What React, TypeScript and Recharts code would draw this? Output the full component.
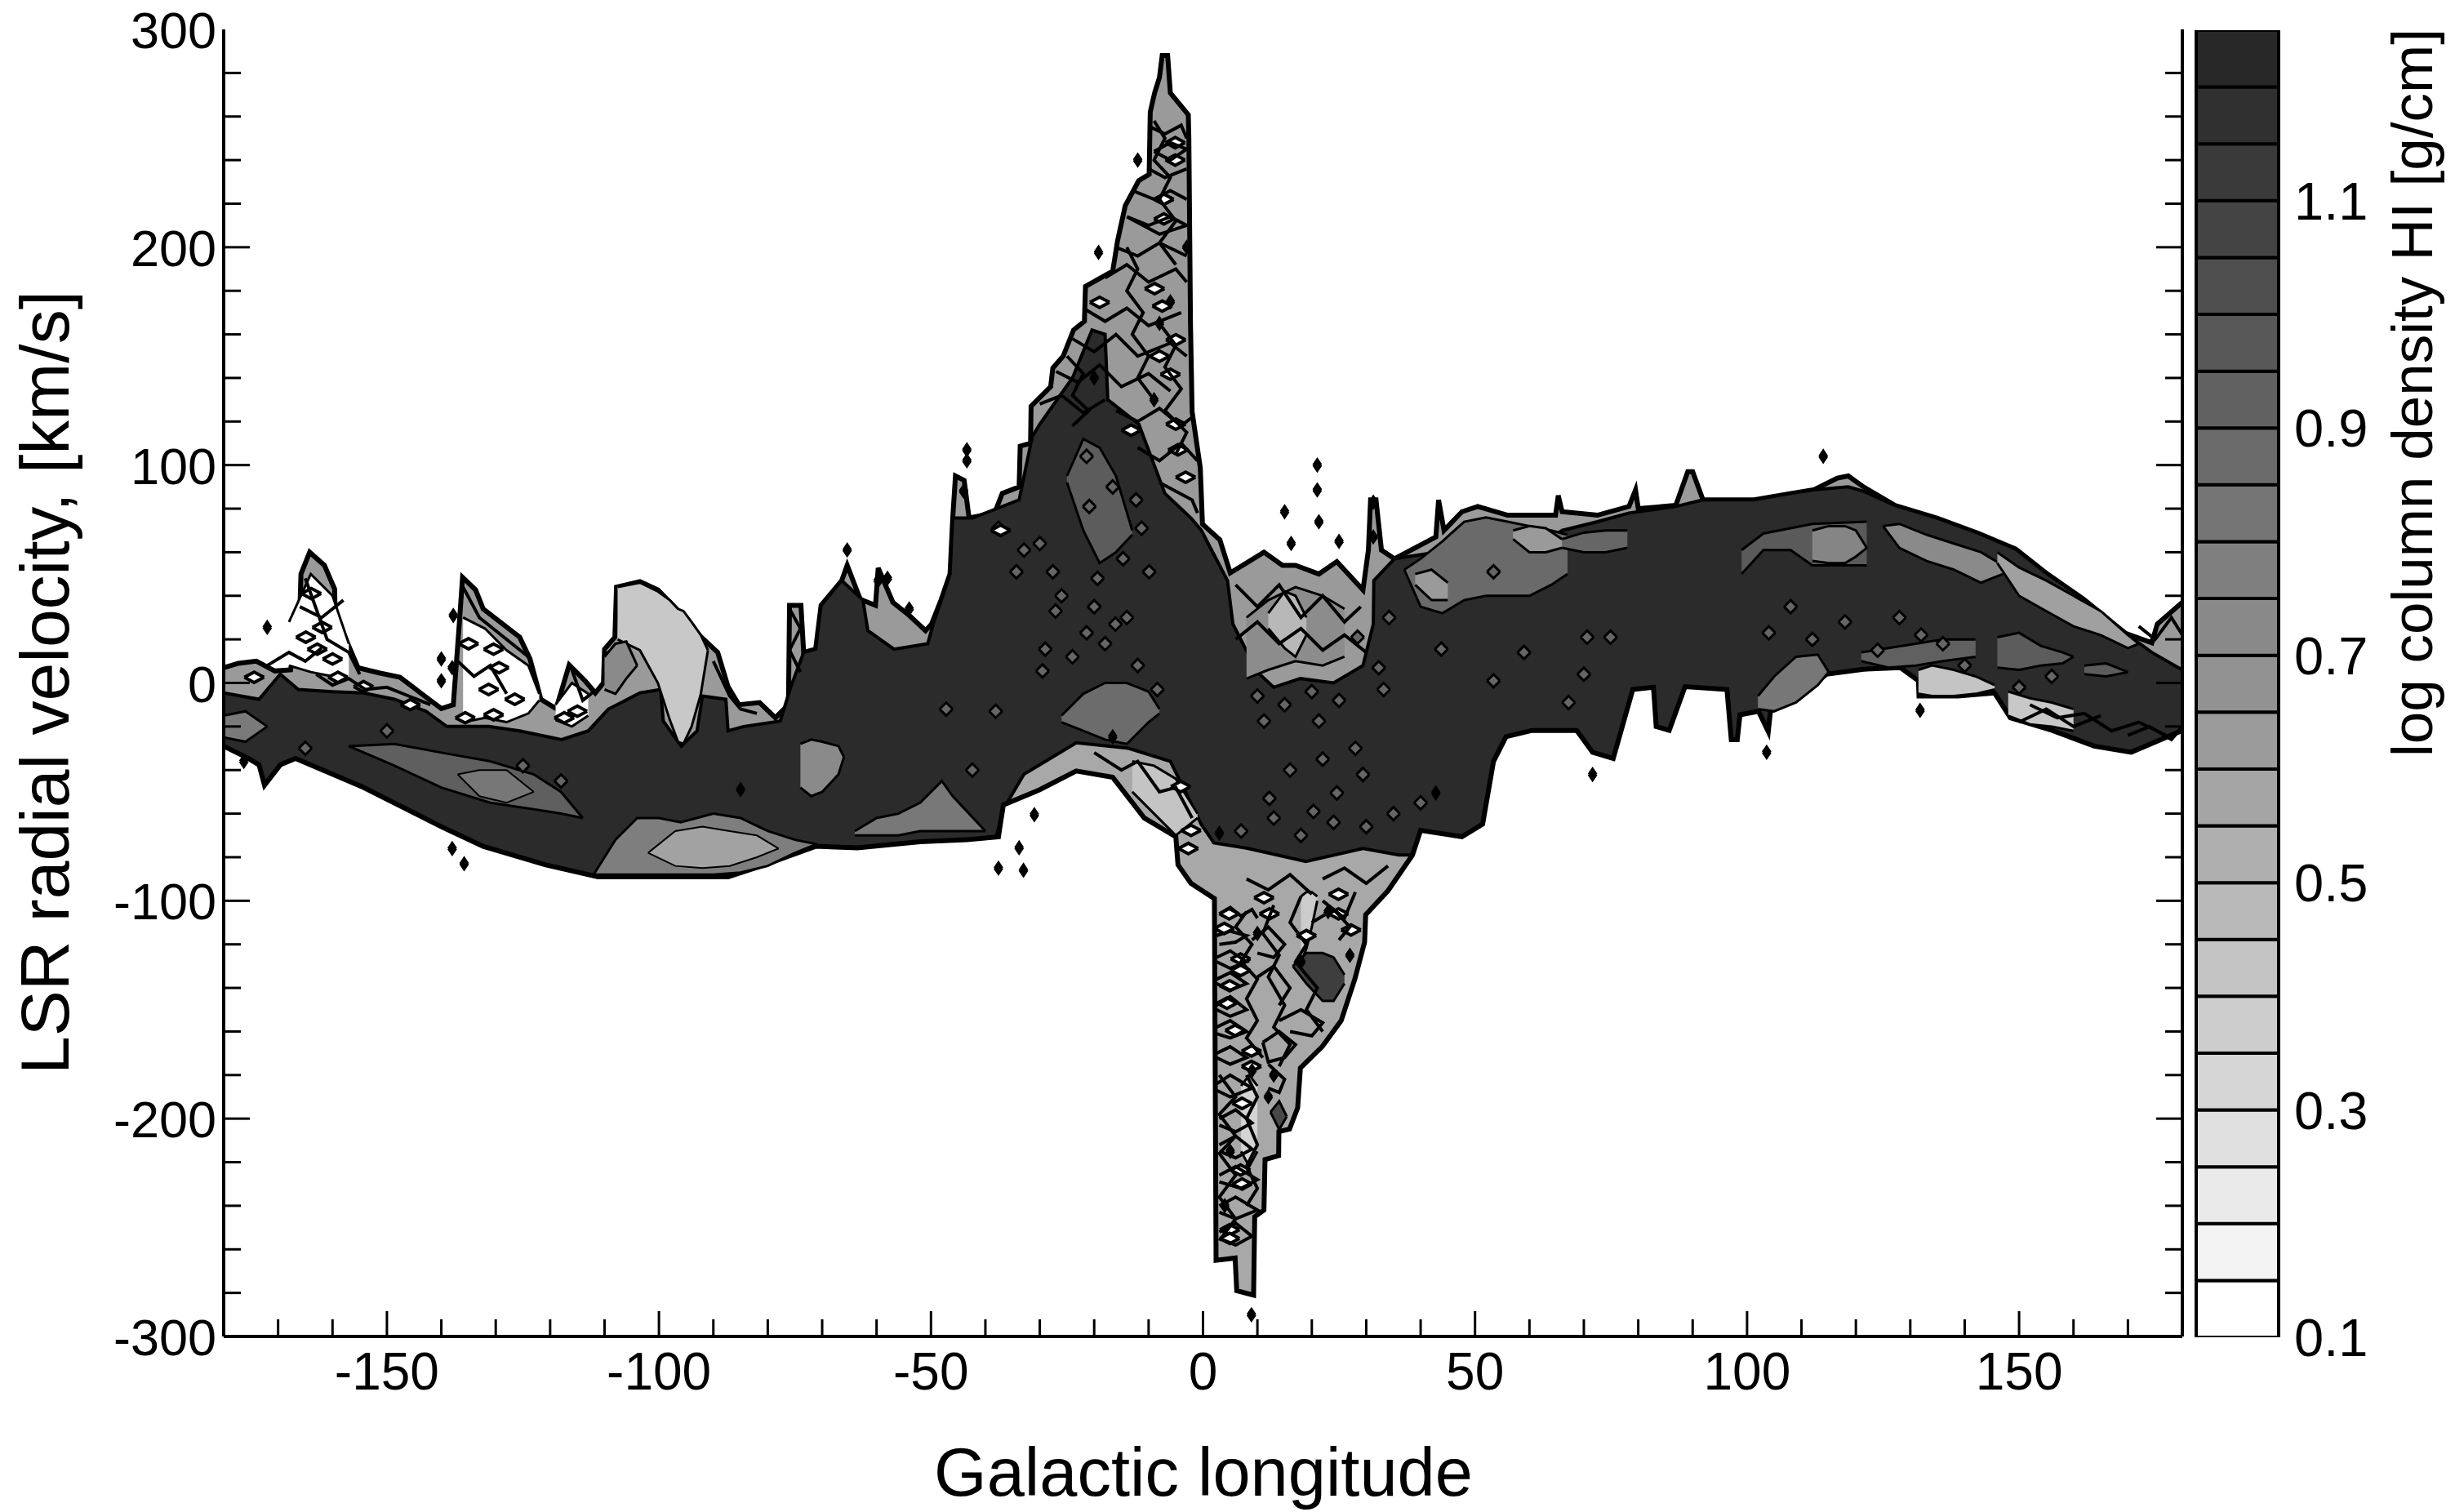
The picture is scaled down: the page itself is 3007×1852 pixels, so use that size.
import React from "react";
import { ComposedChart, BarChart, Area, Bar, Line, XAxis, YAxis, Label } from "recharts";

const FONT = "'Liberation Sans', Arial, sans-serif";

// tick values
const xTickValues = [-170,-160,-150,-140,-130,-120,-110,-100,-90,-80,-70,-60,-50,-40,-30,-20,-10,0,10,20,30,40,50,60,70,80,90,100,110,120,130,140,150,160,170];
const xMajor = [-150,-100,-50,0,50,100,150];
const yTickValues = [-300,-280,-260,-240,-220,-200,-180,-160,-140,-120,-100,-80,-60,-40,-20,0,20,40,60,80,100,120,140,160,180,200,220,240,260,280,300];
const yMajor = [-300,-200,-100,0,100,200,300];
const barTicks = [0.1,0.3,0.5,0.7,0.9,1.1];

// colour bar
const bandGreys = [255,243,234,224,214,205,195,185,175,165,155,146,137,127,117,107,97,88,78,68,58,48,40];

// outer silhouette, upper edge (km/s against longitude)
const outerLon = [-180,-177.3,-174,-170.6,-167.7,-166.6,-166,-165.8,-164.2,-161.5,-159.6,-159.5,-157.7,-155.3,-151.4,-147.6,-143.8,-140,-137.8,-136.7,-136.1,-133.7,-132.3,-125.6,-123.7,-121.7,-118.9,-116.5,-113.6,-111.7,-110.2,-110,-108.1,-107.8,-103.5,-100.2,-96.8,-93.5,-89.2,-87.3,-85.3,-81.5,-78.6,-76.2,-76,-73.9,-73.4,-71.2,-70.2,-66.4,-65.4,-63,-60.2,-59.7,-57,-54,-51,-49.9,-48.1,-46.5,-46,-45.5,-43.9,-43,-38.3,-36.9,-33.8,-33.6,-31.7,-31.6,-28,-27.6,-25.7,-23.8,-21.8,-21.6,-16.6,-15.7,-14.3,-11.8,-9.9,-9.7,-8.9,-8,-7.5,-6.5,-6,-2.7,-2.6,-2.3,-2,-0.5,-0.1,3.1,5,11.2,14.6,17,21.3,24.6,29.4,30.4,30.8,31.8,32.8,35.2,42.8,43.3,44.3,47.6,50.5,56,64.8,65.3,66,72.5,78.3,79.5,80,86.9,89.1,90,91.9,101.1,108.1,112.2,116.6,118.6,121.4,127.2,134.9,142.6,149.4,155.2,161.9,169.6,174.4,175.4,180];
const outerTop = [7,9,10,5.5,6,24,33,50,60,54,43,27,21,7,4.6,2.6,-4.6,-11.8,-10,27,48.5,42.7,34,21,11,-7.5,-11.8,8.3,1,-4.6,0,15.5,21,44,46.5,42.7,34,24,14,-1.7,-10,-9,-16,-10,35.6,35.6,14,15.5,35.6,47,54,38.4,35.6,52.8,37,31,24,27,38.4,50,75.7,95,93,75.7,78,87,90,108.7,110,127,136,144.6,150,162,166,182,189,203,219,230.6,233.5,262,270.8,278,288,288,270.8,260.8,250,164.7,124.5,98.7,72.9,65.7,50.5,60,54,54,50,55.7,42.7,61,84,84,61,57,67,84,70,78.6,81,77,77,86,78.6,77,81,88.6,80,81.5,97,97,84,84,87,88.6,94,95,90,81.5,75.7,68.6,61.4,50,38.4,22.7,18.4,27,37];

// dark body, upper edge
const bodyLon = [-180,-173.5,-169.6,-166.3,-160,-154.3,-148.6,-142.8,-139,-131.3,-125.6,-117.9,-113,-109.3,-103.5,-99.7,-99.2,-95.9,-93,-92,-87.7,-87.3,-84.4,-77.7,-75.8,-73.4,-71.2,-70.2,-66.4,-62.5,-61.6,-56.8,-50.6,-49.6,-48.1,-46.5,-46,-42.4,-33.8,-31.4,-30,-24,-20.4,-18,-17.5,-11.8,-7,-2.2,-0.3,4.5,5.5,10,13,17.9,24,29.4,31.3,31.4,35.2,42.8,47.6,50.5,56,64.8,66,72.5,78.3,86.9,91.9,101.1,108.1,112.2,118.6,121.4,127.2,134.9,142.6,149.4,155.2,161.9,169.6,174.4,180];
const bodyTop = [-4.6,-7.5,4,-3,-4,-4.6,-7.5,-13,-20,-20,-22,-26,-22,-12,-4.6,-3,-17.5,-29,-22,-6,-7.5,-22,-20,-17.5,-2,14,15.5,35.6,47,38,24,15.5,18,27,38,50,75.7,75.7,84,113,118.8,140,162,160,130,118.8,87,75.7,70,47,27,5,-2,2,0,8,27,47,57,60,62,65,66,68,70,74,78,81,84,84,87,88.6,90,88,81.5,75.7,68.6,61.4,50,38.4,22.7,14,6];

// lower edges
const greyLowLon = [-38,-36.7,-32.9,-23.3,-13.7,-6,-0.3,2,8.3,18.9,29.4,36,38.5];
const greyLow = [-70.6,-58,-41.9,-27.5,-30,-36,-65,-73.4,-76,-82,-76,-79,-79];
const outerLowLon = [-180,-175.4,-173.5,-172.5,-169.6,-166.8,-154.3,-140,-132.3,-120.8,-111.2,-87.3,-80.6,-71.2,-63.5,-52,-43.4,-37.6,-36.7,-30,-23.3,-16.6,-10.8,-5,-4.6,-2.2,2.1,2.4,5.9,6.2,9.3,9.5,11.2,11.4,13.9,13.95,15.9,17.4,17.9,21.9,25.4,27.9,29.7,29.9,34,38.5,40,47.6,51.4,53.4,55.7,60.5,68.7,71.6,75.4,79,82.8,83.3,85.7,88.6,96.3,97.1,98.2,98.7,102.1,103.9,104.3,107.9,114.6,121.4,128.2,131.5,131.6,138.8,145.5,148.4,156.1,163.8,170.6,180];
const outerLow = [-29,-34.7,-37.6,-47,-37.6,-34.7,-48,-66,-75,-83.5,-89,-89,-83.5,-75,-75.7,-72.9,-72,-70.6,-56,-49,-40.4,-43.3,-62,-70.6,-83.5,-92,-99,-265,-264,-279,-281,-245,-242,-218.8,-217,-206,-204.8,-195,-176.7,-167,-155,-136,-119,-106.4,-95.4,-79,-67.7,-70.6,-64.8,-36,-24.7,-21.8,-21.8,-31.8,-34.7,-3,-2,-20,-21.8,-1.7,-3,-26,-26,-14.6,-13,-22.4,-13,-9,4,6.3,7,1,-6,-6,-4.6,-16,-21.8,-29,-31.8,-21.8];

// filled contour patches: longitude, low and high velocity
const hump = { lon:[-107.6,-103.5,-100.2,-98,-96.5,-95.5,-94,-92.3,-91], low:[20,15,0,-17,-27,-28,-20,-5,15], high:[44,46,42,38,34,33,28,22,15] };
const humpInner = { lon:[-110,-108,-106,-104], low:[-3,-5,2,8], high:[12,18,19,8] };
const wedgeA = { lon:[-157,-148.6,-140,-131,-123,-118,-114], low:[-29,-38,-48,-55,-58,-60,-62], high:[-29,-28,-32,-36,-42,-50,-62] };
const wedgeB = { lon:[-137,-133,-128,-123], low:[-42,-52,-55,-50], high:[-42,-40,-40,-50] };
const floorA = { lon:[-112,-108,-104,-100,-96,-90,-85,-80,-75,-71], low:[-88,-88,-88,-88,-88,-88,-87,-84,-78,-74], high:[-88,-72,-62,-62,-64,-60,-62,-68,-72,-74] };
const floorB = { lon:[-102,-97,-92,-87,-82,-78], low:[-78,-84,-85,-84,-80,-76], high:[-78,-68,-66,-68,-70,-76] };
const edgeLeft = { lon:[-180,-176,-172], low:[-25,-27,-20], high:[-15,-13,-20] };
const blobW = { lon:[-74,-72,-70,-67,-66], low:[-48,-52,-50,-42,-34], high:[-28,-26,-27,-29,-34] };
const floorC = { lon:[-64,-60,-56,-52,-48,-46,-43,-40], low:[-70,-70,-70,-68,-68,-68,-68,-68], high:[-68,-62,-60,-55,-45,-52,-60,-68] };
const centreBand = { lon:[-26,-22,-18,-14,-10,-8], low:[-18,-22,-26,-28,-18,-14], high:[-15,-5,0,0,-4,-12] };
const columnA = { lon:[-25,-22,-19,-16,-13], low:[92,70,55,60,68], high:[95,112,108,95,70] };
const rightA = { lon:[99,103,108,112,122], low:[50,61,61,54,54], high:[61,68.6,71,73,74] };
const rightB = { lon:[112,115,118,120,122], low:[56,55,55,58,62], high:[70,72,72,70,62] };
const rightC = { lon:[125,128,133,138,143,147], low:[72,62,56,52,46,50], high:[72,73,68,64,60,54] };
const rightD = { lon:[146,150,155,160,165,170,172], low:[55,40,33,26,22,16,18], high:[60,53,47,40,33,22,18] };
const rightE = { lon:[131.5,134,138,142,145.5], low:[-5,-6,-6,-5,-3], high:[6,8,6,3,-1] };
const rightF = { lon:[148,152,156,160], low:[-15,-19,-20,-22], high:[-4,-7,-9,-12] };
const rightG = { lon:[102,105,109,113,115], low:[-12,-13,-9,-1,5], high:[-6,3,12,13,5] };
const rightH = { lon:[146,150,154,158,160], low:[7,6,8,9,12], high:[21,23,17,14,12] };
const rightI = { lon:[121,126,131,136,142], low:[10,7,8,10,12], high:[14,16,18,20,20] };
const rightJ = { lon:[162,166,170], low:[4,3,5], high:[8,9,5] };
const topA = { lon:[37,40,44,48,52,56,60,64,67], low:[52,35,32,38,40,40,40,45,50], high:[52,57,65,74,76,74,72,70,68] };
const topB = { lon:[39,42,45], low:[45,38,38], high:[50,52,46] };
const topC = { lon:[57,60,63,66], low:[66,60,60,62], high:[70,72,71,66] };
const topD = { lon:[66,70,74,78], low:[62,60,60,62], high:[66,69,70,70] };
const armDarkA = { lon:[16.5,19,22,24,26], low:[-130,-138,-146,-146,-138], high:[-130,-124,-124,-126,-134] };
const armDarkB = { lon:[12.4,14,15.4], low:[-197,-205,-199], high:[-197,-192,-199] };
const armLightA = { lon:[18,19,20,21], low:[-128,-122,-112,-100], high:[-98,-96,-96,-98] };
const armLightB = { lon:[7,8.5,10], low:[-215,-222,-215], high:[-185,-180,-185] };
const streamA = { lon:[-168,-164,-160,-157], low:[8,5,3,2], high:[28,50,40,18] };
const streamB = { lon:[-136,-132,-128,-124,-122], low:[-18,-16,-18,-14,-8], high:[30,25,15,8,-5] };
const streamC = { lon:[-119,-116,-113], low:[-17,-20,-15], high:[-10,0,-5] };
const midGreyA = { lon:[8,12,17,22,26], low:[2,6,10,8,12], high:[30,38,44,40,34] };
const midLightB = { lon:[-13,-9,-5,-1], low:[-50,-60,-70,-62], high:[-36,-38,-44,-60] };
const midLightC = { lon:[12,15,17,19], low:[25,16,12,22], high:[32,42,40,30] };

const patchLayers = [
  { p: streamA, fill: "#ffffff", w: 3 }, { p: streamB, fill: "#ffffff", w: 3 }, { p: streamC, fill: "#ffffff", w: 3 },
  { p: hump, fill: "#c8c8c8", w: 3 }, { p: humpInner, fill: "#8a8a8a", w: 3 },
  { p: wedgeA, fill: "#5f5f5f", w: 3 }, { p: wedgeB, fill: "#777777", w: 2 },
  { p: floorA, fill: "#7e7e7e", w: 3 }, { p: floorB, fill: "#a2a2a2", w: 2 },
  { p: edgeLeft, fill: "#7a7a7a", w: 3 }, { p: blobW, fill: "#8a8a8a", w: 3 }, { p: floorC, fill: "#787878", w: 3 },
  { p: centreBand, fill: "#6c6c6c", w: 3 }, { p: columnA, fill: "#5c5c5c", w: 3 },
  { p: rightA, fill: "#5a5a5a", w: 3 }, { p: rightB, fill: "#858585", w: 3 }, { p: rightC, fill: "#8a8a8a", w: 3 },
  { p: rightD, fill: "#a0a0a0", w: 3 }, { p: rightE, fill: "#c4c4c4", w: 3 }, { p: rightF, fill: "#c8c8c8", w: 3 },
  { p: rightG, fill: "#777777", w: 3 }, { p: rightH, fill: "#5c5c5c", w: 3 }, { p: rightI, fill: "#606060", w: 3 }, { p: rightJ, fill: "#5c5c5c", w: 3 },
  { p: topA, fill: "#6a6a6a", w: 3 }, { p: topB, fill: "#9a9a9a", w: 3 }, { p: topC, fill: "#9a9a9a", w: 3 }, { p: topD, fill: "#666666", w: 3 },
  { p: armDarkA, fill: "#3e3e3e", w: 3 }, { p: armDarkB, fill: "#484848", w: 3 }, { p: armLightA, fill: "#cccccc", w: 3 }, { p: armLightB, fill: "#d4d4d4", w: 3 },
  { p: midGreyA, fill: "#8c8c8c", w: 3 }, { p: midLightC, fill: "#b8b8b8", w: 3 }, { p: midLightB, fill: "#c4c4c4", w: 3 },
];

// small closed contours
const whiteLon = [-174.4,-161.9,-160,-162.8,-154.3,-159,-145.7,-135.6,-130.4,-131.3,-129.4,-130.4,-126.5,-135,-117.4,-115,-163.9,-164.9,
  -5.1,-5.1,-7.2,-7.2,-19,-8.9,-7.5,-5,-8,-6,-4.6,-3.2,-5,-13.2,-37.2,-4.1,-2.2,-2.7,
  11.2,6.9,6.9,4.9,4.4,5.9,7.2,6.9,7.2,4.9,4.9,8.9,8.9,12.2,19,24.9,24.9,27.2,4.8,3.9];
const whiteVel = [2.6,25.5,11,15.5,-1.7,2.6,-10,-16,-14.6,-3,7,15.5,-7.5,18,-16,-13,41,21,
  248,240,222,213,174.7,181,173,157.5,150,141.7,107,94.4,118.8,116,70,-47.6,-67.7,-76,
  -98.6,-126.7,-132,-139,-147,-159.5,-193,-223.6,-230,-251,-255,-176,-169,-106,-116,-97,-106,-113.4,-106,-112.7];
const blackLon = [-176.3,-172,-137.8,-140,-140,-138,-138,-135.8,-85,-43.4,-43.4,-19.2,-65.4,-59.7,-54,21,21,21.3,15,16.2,25,31.3,31.3,-37.6,-33,-33.8,-31,71.6,103.6,131.8,8.9,-16.6,3,42.8,-44,-58,114,
  -3,-6,-9,10,13,18,23,27,9,5,4,12,-20,-12,-8];
const blackVel = [-36,25.5,31,11,1,7,-76,-83,-49,107,102,197.6,61,47,34,100,88.6,74,78.6,64,65,83,67,-85,-86,-75.7,-60.5,-42,-31.8,-12.6,-290,-24.7,-69,-50.5,88,48,104,
  200,175,130,-115,-180,-128,-105,-125,-178,-215,-240,-190,140,240,165];
const greyLon = [-37.6,-32.9,-30,-34.3,-27.6,-21.4,-20.9,-16.6,-12.3,-11.3,-14.7,-19.4,-9.9,-27.1,-21.4,-16.1,-29,-29.5,-38.1,-47.2,-8.4,11.2,21.3,12.2,20.3,24.6,29.4,34.2,32.3,28.4,33.2,53.4,74.9,70.6,59,70,67.2,53.4,43.8,-42.4,
  104,108,112,118,124,128,132,136,140,150,156,-165,-150,-125,-118,
  10,15,20,25,7,13,18,24,30,35,40,16,22,28,-24,-18,-12,-26,-20,-14];
const greyVel = [71,61,64,51,51,104,81,90,84,71,57,48,51,33,23,27,15.5,5.5,-13,-12,-3,-17.5,-17.5,-53,-59,-50.5,-42,30,7,21,-3,51,21,21,14,4,-9,1,15.5,-40,
  23,35,20,28,15,30,22,18,8,-2,3,-30,-22,-38,-45,
  -6,-10,-4,-8,-68,-62,-70,-64,-66,-60,-55,-40,-35,-30,12,18,8,40,35,30];

// wandering contour lines
const armLowSquiggles = [
  { lon:[8,6,9,7,10,8,10,8,11], vel:[-105,-112,-120,-128,-136,-145,-155,-163,-172] },
  { lon:[13,11,14,12,15,13,16,14], vel:[-102,-115,-125,-135,-148,-158,-166,-176] },
  { lon:[18,16,19,17,21,19,22], vel:[-98,-110,-120,-128,-140,-150,-160] },
  { lon:[3,6,3,6,3,6,3,6,3], vel:[-180,-190,-198,-208,-216,-226,-236,-246,-256] },
  { lon:[8,10,8,10,8,10,8], vel:[-180,-190,-200,-212,-222,-232,-240] },
  { lon:[3,5,7,9,10], vel:[-106,-103,-107,-104,-108] },
  { lon:[2.5,5,8,6,3], vel:[-116,-114,-116,-119,-120] },
  { lon:[2.5,5,8,5,2.5], vel:[-126,-123,-128,-131,-128] },
  { lon:[2.5,5,8,5,2.5], vel:[-136,-133,-138,-141,-138] },
  { lon:[2.5,5,8,5,2.5], vel:[-148,-144,-150,-153,-150] },
  { lon:[2.5,5,8,5,2.5], vel:[-158,-155,-160,-163,-161] },
  { lon:[2.5,5,8,5,2.5], vel:[-170,-167,-172,-175,-172] },
  { lon:[2.5,5,9,5,2.5], vel:[-184,-180,-186,-190,-187] },
  { lon:[3,6,9,6,3], vel:[-200,-196,-202,-206,-203] },
  { lon:[3,6,9,6,3], vel:[-212,-208,-214,-218,-215] },
  { lon:[3,6,10,7,3], vel:[-226,-222,-228,-232,-229] },
  { lon:[3,6,10,6,3], vel:[-240,-236,-242,-246,-243] },
  { lon:[3,6,9,6,3], vel:[-252,-248,-254,-258,-255] },
  { lon:[11,14,17,15,12,11], vel:[-165,-160,-166,-172,-174,-165] },
  { lon:[14,18,22,20,16], vel:[-155,-150,-156,-162,-160] },
  { lon:[20,24,27,25], vel:[-110,-104,-112,-118] },
  { lon:[22,26,28], vel:[-100,-108,-96] },
  { lon:[9,12,15,13,10], vel:[-118,-112,-120,-126,-124] },
  { lon:[10,13,16,14], vel:[-135,-130,-140,-148] },
  { lon:[12,15,14,12], vel:[-175,-182,-188,-186] },
  { lon:[8,12,16,20], vel:[-90,-95,-88,-97] },
  { lon:[22,26,30,34], vel:[-90,-85,-92,-84] },
];
const armHighSquiggles = [
  { lon:[-14,-12,-14,-11,-13,-10,-12,-9], vel:[200,190,180,170,160,150,140,130] },
  { lon:[-9,-7,-9,-6,-8,-5,-8,-5], vel:[258,250,240,232,222,212,202,192] },
  { lon:[-25,-22,-24,-21,-24], vel:[150,142,132,125,118] },
  { lon:[-8,-5,-7,-4,-7,-3,-5], vel:[165,155,145,135,125,115,105] },
  { lon:[-9.5,-7,-4,-3], vel:[255,252,256,250] },
  { lon:[-9,-6,-3,-6,-9], vel:[244,240,245,248,244] },
  { lon:[-10,-7,-3], vel:[236,232,236] },
  { lon:[-13,-9,-6,-3], vel:[226,222,226,222] },
  { lon:[-14,-10,-6,-3,-8,-14], vel:[214,210,214,210,206,214] },
  { lon:[-16,-12,-8,-3], vel:[200,196,202,196] },
  { lon:[-18,-14,-10,-5,-3], vel:[186,192,184,190,184] },
  { lon:[-22,-18,-14,-10,-4], vel:[172,166,172,164,170] },
  { lon:[-24,-20,-16,-12,-6,-3], vel:[158,152,160,150,156,150] },
  { lon:[-27,-23,-19,-15,-10,-6], vel:[143,138,146,136,142,134] },
  { lon:[-30,-26,-22,-18], vel:[128,132,124,130] },
  { lon:[-16,-12,-8,-4,-2], vel:[125,120,126,118,122] },
  { lon:[-12,-8,-4,-1], vel:[108,102,110,102] },
  { lon:[-8,-5,-2,-1], vel:[92,88,84,78] },
];
const edgeSquiggles = [
  { lon:[6,10,14,18,22,26,29], vel:[45,35,45,30,40,28,35] },
  { lon:[6,10,14,18,22,26,30], vel:[20,28,18,25,15,22,14] },
  { lon:[-20,-15,-12,-8,-5,-2], vel:[-32,-40,-36,-50,-48,-62] },
  { lon:[-163,-160,-157,-154,-150,-146,-142], vel:[4,-1,2,-3,-2,-6,-10] },
  { lon:[152,157,162,167,172,177], vel:[-10,-16,-14,-22,-18,-24] },
  { lon:[-172,-168,-165,-162], vel:[8,14,10,16] },
  { lon:[-166,-162,-158], vel:[35,30,38] },
  { lon:[-165,-161,-157,-155], vel:[48,20,14,4] },
  { lon:[-136,-133,-130,-127,-124], vel:[44,30,24,18,12] },
  { lon:[-137,-134,-131,-128], vel:[10,3,8,-5] },
  { lon:[-116,-114,-112], vel:[6,-8,-4] },
  { lon:[-90,-87,-85,-82], vel:[10,-6,-12,-14] },
  { lon:[-76,-74,-76,-74], vel:[34,25,15,5] },
  { lon:[172,175,178,180], vel:[26,20,30,22] },
  { lon:[170,174,178,180], vel:[-24,-20,-26,-20] },
  { lon:[150,155,160,165], vel:[-18,-12,-20,-15] },
];
const squiggles = [...armLowSquiggles, ...armHighSquiggles, ...edgeSquiggles];

const rows = (lon: number[], val: number[]) => lon.map((l, i) => ({ lon: l, v: val[i] }));
const rangeRows = (p: { lon: number[]; low: number[]; high: number[] }) => p.lon.map((l, i) => ({ lon: l, r: [p.low[i], p.high[i]] }));
const eyeRows = (l: number, v: number, dl: number, dv: number) => [
  { lon: l - dl, r: [v, v] }, { lon: l, r: [v - dv, v + dv] }, { lon: l + dl, r: [v, v] },
];

const txt = { fontFamily: FONT, fill: "#000" };

const xTick = (dir: number, showLabel: boolean) => (props: any) => {
  const { x, y, payload } = props;
  const major = xMajor.includes(payload.value);
  return (
    <g>
      <line x1={x} x2={x} y1={y} y2={y + dir * (major ? 31 : 21)} stroke="#000" strokeWidth={3} />
      {showLabel && major ? (
        <text x={x} y={y + 65} textAnchor="middle" fontSize={64} {...txt}>{payload.value}</text>
      ) : null}
    </g>
  );
};

const yTick = (dir: number, showLabel: boolean) => (props: any) => {
  const { x, y, payload } = props;
  const major = yMajor.includes(payload.value);
  const edge = Math.abs(payload.value) === 300;
  return (
    <g>
      {edge ? null : <line x1={x} x2={x + dir * (major ? 32 : 21)} y1={y} y2={y} stroke="#000" strokeWidth={3} />}
      {showLabel && major ? (
        <text x={x - 9} y={y + 23} textAnchor="end" fontSize={63} {...txt}>{payload.value}</text>
      ) : null}
    </g>
  );
};

const barTick = (props: any) => {
  const { x, y, payload } = props;
  return <text x={x + 19} y={y + 23} textAnchor="start" fontSize={65} {...txt}>{payload.value.toFixed(1)}</text>;
};

const axisLine = { stroke: "#000", strokeWidth: 4 };
const barRow = bandGreys.reduce((acc: any, _g, i) => { acc["b" + i] = 0.05; return acc; }, { name: "scale", base: 0.1 });

export default function App() {
  return (
    <div style={{ position: "absolute", left: 0, top: 0, width: 3007, height: 1852, background: "#fff", overflow: "hidden" }}>
      <div style={{ position: "absolute", left: 0, top: 0 }}>
        <ComposedChart width={2700} height={1852} margin={{ left: 0, top: 36, right: 0, bottom: 0 }}>
          <XAxis xAxisId="b" dataKey="lon" type="number" domain={[-180, 180]} ticks={xTickValues} interval={0} allowDataOverflow height={215} tickSize={0} tickMargin={0} tick={xTick(-1, true)} tickLine={false} axisLine={axisLine} orientation="bottom">
            <Label content={() => <text x={1474} y={1832} textAnchor="middle" fontSize={83} {...txt}>Galactic longitude</text>} />
          </XAxis>
          <XAxis xAxisId="t" dataKey="lon" type="number" domain={[-180, 180]} ticks={xTickValues} interval={0} allowDataOverflow height={0} tickSize={0} tickMargin={0} tick={xTick(1, false)} tickLine={false} axisLine={axisLine} orientation="top" />
          <YAxis yAxisId="l" type="number" domain={[-300, 300]} ticks={yTickValues} interval={0} allowDataOverflow width={274} tickSize={0} tickMargin={0} tick={yTick(1, true)} tickLine={false} axisLine={axisLine} orientation="left">
            <Label content={() => <text transform="translate(84,836) rotate(-90)" textAnchor="middle" fontSize={84} {...txt}>LSR radial velocity, [km/s]</text>} />
          </YAxis>
          <YAxis yAxisId="r" type="number" domain={[-300, 300]} ticks={yTickValues} interval={0} allowDataOverflow width={27} tickSize={0} tickMargin={0} tick={yTick(-1, false)} tickLine={false} axisLine={axisLine} orientation="right" />

          <Area xAxisId="b" yAxisId="l" data={rows(outerLon, outerTop)} dataKey="v" baseValue={-300} type="linear" fill="#9a9a9a" fillOpacity={1} stroke="#000" strokeWidth={6} dot={false} activeDot={false} isAnimationActive={false} />
          <Area xAxisId="b" yAxisId="l" data={rows(bodyLon, bodyTop)} dataKey="v" baseValue={-300} type="linear" fill="#2b2b2b" fillOpacity={1} stroke="#000" strokeWidth={4} dot={false} activeDot={false} isAnimationActive={false} />
          <Area xAxisId="b" yAxisId="l" data={rows(greyLowLon, greyLow)} dataKey="v" baseValue={-300} type="linear" fill="#a8a8a8" fillOpacity={1} stroke="#000" strokeWidth={4} dot={false} activeDot={false} isAnimationActive={false} />
          <Area xAxisId="b" yAxisId="l" data={rows(outerLowLon, outerLow)} dataKey="v" baseValue={-300} type="linear" fill="#ffffff" fillOpacity={1} stroke="#000" strokeWidth={6} dot={false} activeDot={false} isAnimationActive={false} />

          {patchLayers.map((l, i) => (
            <Area key={"p" + i} xAxisId="b" yAxisId="l" data={rangeRows(l.p)} dataKey="r" type="linear" fill={l.fill} fillOpacity={1} stroke="#000" strokeWidth={l.w} dot={false} activeDot={false} isAnimationActive={false} />
          ))}
          {greyLon.map((l, i) => (
            <Area key={"g" + i} xAxisId="b" yAxisId="l" data={eyeRows(l, greyVel[i], 1.2, 3)} dataKey="r" type="linear" fill="#666666" fillOpacity={1} stroke="#000" strokeWidth={3} dot={false} activeDot={false} isAnimationActive={false} />
          ))}
          {squiggles.map((s, i) => (
            <Line key={"s" + i} xAxisId="b" yAxisId="l" data={rows(s.lon, s.vel)} dataKey="v" type="linear" stroke="#000" strokeWidth={4} dot={false} activeDot={false} isAnimationActive={false} />
          ))}
          {whiteLon.map((l, i) => (
            <Area key={"w" + i} xAxisId="b" yAxisId="l" data={eyeRows(l, whiteVel[i], 1.8, 2.4)} dataKey="r" type="linear" fill="#ffffff" fillOpacity={1} stroke="#000" strokeWidth={4} dot={false} activeDot={false} isAnimationActive={false} />
          ))}
          {blackLon.map((l, i) => (
            <Area key={"k" + i} xAxisId="b" yAxisId="l" data={eyeRows(l, blackVel[i], 0.7, 2.6)} dataKey="r" type="linear" fill="#000000" fillOpacity={1} stroke="#000" strokeWidth={3} dot={false} activeDot={false} isAnimationActive={false} />
          ))}
        </ComposedChart>
      </div>
      <div style={{ position: "absolute", left: 2600, top: 0 }}>
        <BarChart width={407} height={1852} data={[barRow]} margin={{ left: 90, top: 37, right: 0, bottom: 214 }} barCategoryGap={0}>
          <XAxis dataKey="name" hide />
          <YAxis orientation="right" type="number" domain={[0.1, 1.25]} ticks={barTicks} interval={0} allowDataOverflow width={216} tickSize={0} tickMargin={0} tick={barTick} tickLine={false} axisLine={false}>
            <Label content={() => <text transform="translate(379,481) rotate(-90)" textAnchor="middle" fontSize={71} {...txt}>log column density HI [g/cm]</text>} />
          </YAxis>
          <Bar dataKey="base" stackId="s" fill="none" stroke="none" isAnimationActive={false} />
          {bandGreys.map((g, i) => (
            <Bar key={i} dataKey={"b" + i} stackId="s" fill={`rgb(${g},${g},${g})`} stroke="#000" strokeWidth={4} isAnimationActive={false} />
          ))}
        </BarChart>
      </div>
    </div>
  );
}
